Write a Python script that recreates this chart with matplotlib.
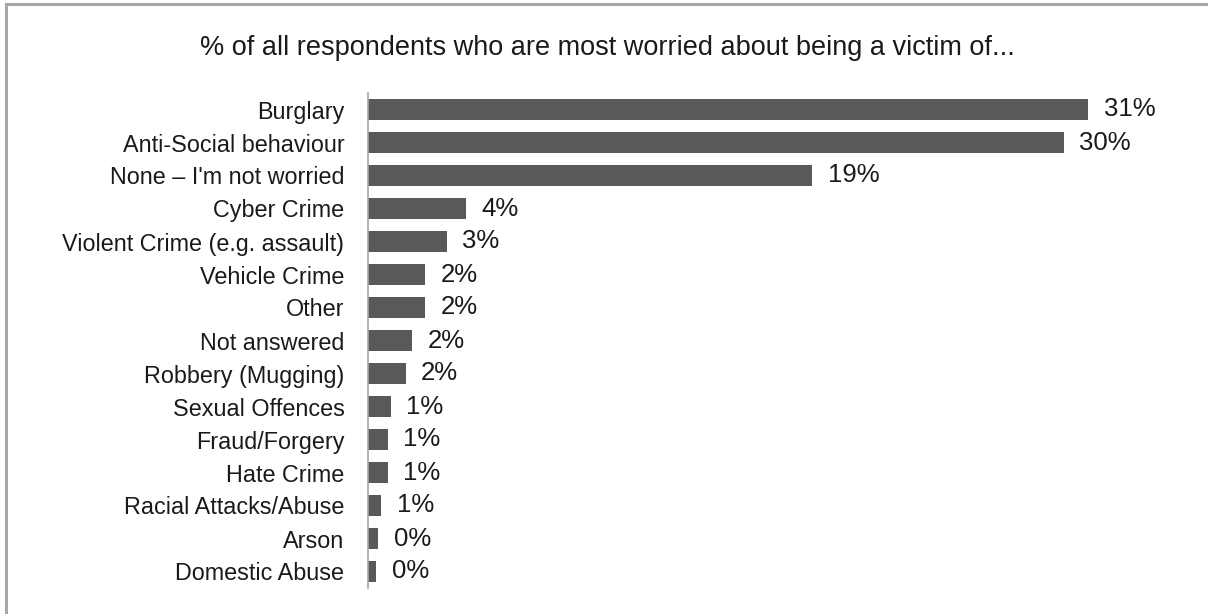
import matplotlib
matplotlib.use("Agg")
import matplotlib.pyplot as plt
from matplotlib.patches import Rectangle

plt.rcParams['font.family'] = ['Liberation Sans', 'DejaVu Sans']

categories = ["Burglary", "Anti-Social behaviour", "None \u2013 I'm not worried", "Cyber Crime",
              "Violent Crime (e.g. assault)", "Vehicle Crime", "Other", "Not answered",
              "Robbery (Mugging)", "Sexual Offences", "Fraud/Forgery", "Hate Crime",
              "Racial Attacks/Abuse", "Arson", "Domestic Abuse"]
values = [31.05, 30.0, 19.15, 4.22, 3.39, 2.46, 2.46, 1.91, 1.62, 0.98, 0.86, 0.86, 0.57, 0.45, 0.36]
labels = ["31%", "30%", "19%", "4%", "3%", "2%", "2%", "2%", "2%", "1%", "1%", "1%", "1%", "0%", "0%"]
title = "% of all respondents who are most worried about being a victim of..."

W, H = 1208, 614
fig = plt.figure(figsize=(W / 100, H / 100), dpi=100)
fig.patch.set_facecolor("white")

# outer frame
fig.patches.append(Rectangle((6 / W, -0.1), 1.2, 1 - 4 / H + 0.1, transform=fig.transFigure,
                             fill=False, edgecolor="#a6a6a6", linewidth=2.2))

ax_l, ax_r = 368, 1150
ax_t, ax_b = 93, 588
ax = fig.add_axes([ax_l / W, 1 - ax_b / H, (ax_r - ax_l) / W, (ax_b - ax_t) / H])
px_per_unit = 23.2
ax.set_xlim(0, (ax_r - ax_l) / px_per_unit)

y = list(range(len(categories)))
ax.barh(y, values, height=0.64, color="#595959")
ax.set_ylim(len(categories) - 0.5, -0.5)
ax.set_yticks(y)
ax.set_yticklabels(categories, fontsize=16.8, color="#1a1a1a")
ax.tick_params(axis="y", length=0, pad=17)
ax.set_xticks([])
for s in ["top", "right", "bottom"]:
    ax.spines[s].set_visible(False)
ax.spines["left"].set_color("#a6a6a6")
ax.spines["left"].set_linewidth(1.2)

for yi, v, lab in zip(y, values, labels):
    ax.annotate(lab, (v, yi), xytext=(11, 0), textcoords="offset points",
                va="center", ha="left", fontsize=18.5, color="#1a1a1a")

fig.text(607 / W, 1 - 48 / H, title, ha="center", va="center", fontsize=19.5, color="#1a1a1a")

fig.savefig("out.png", dpi=100)
